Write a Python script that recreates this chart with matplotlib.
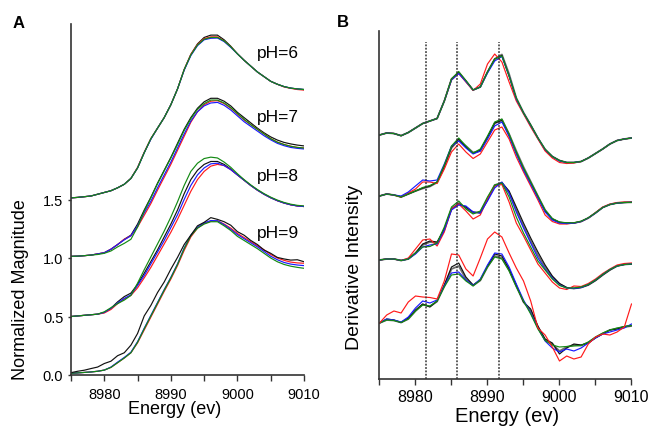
import numpy as np
import matplotlib.pyplot as plt
from matplotlib.ticker import MultipleLocator

plt.rcParams['font.family'] = ['Liberation Sans', 'DejaVu Sans']

# energy grid (eV), one point per eV
energy = np.arange(8975, 9011)

# ---- panel A: normalized XANES, values relative to each stack offset ----
ph_labels = ['pH=6', 'pH=7', 'pH=8', 'pH=9']
a_offsets = [1.5, 1.0, 0.5, 0.0]
a_label_y = [2.76, 2.21, 1.705, 1.22]

a6_black = [0.014, 0.018, 0.024, 0.030, 0.045, 0.060, 0.075, 0.100, 0.130, 0.180, 0.270, 0.400, 0.520, 0.610, 0.700, 0.810, 0.945, 1.110, 1.240, 1.330, 1.385, 1.405, 1.405, 1.365, 1.310, 1.245, 1.190, 1.140, 1.090, 1.050, 1.010, 0.985, 0.965, 0.952, 0.945, 0.940]
a6_red = [0.014, 0.018, 0.024, 0.030, 0.045, 0.060, 0.075, 0.100, 0.130, 0.180, 0.275, 0.405, 0.520, 0.610, 0.700, 0.810, 0.945, 1.110, 1.240, 1.325, 1.375, 1.390, 1.390, 1.355, 1.305, 1.245, 1.190, 1.140, 1.090, 1.050, 1.010, 0.985, 0.962, 0.950, 0.940, 0.935]
a6_blue = [0.014, 0.018, 0.024, 0.030, 0.045, 0.060, 0.075, 0.100, 0.130, 0.180, 0.270, 0.400, 0.515, 0.610, 0.700, 0.810, 0.945, 1.105, 1.230, 1.315, 1.365, 1.378, 1.380, 1.350, 1.300, 1.245, 1.190, 1.140, 1.090, 1.050, 1.010, 0.985, 0.965, 0.952, 0.945, 0.940]
a6_green = [0.014, 0.018, 0.024, 0.030, 0.045, 0.060, 0.075, 0.100, 0.130, 0.180, 0.270, 0.400, 0.520, 0.610, 0.700, 0.810, 0.945, 1.110, 1.235, 1.320, 1.370, 1.385, 1.385, 1.355, 1.305, 1.245, 1.190, 1.140, 1.090, 1.050, 1.010, 0.985, 0.965, 0.952, 0.945, 0.940]

a7_black = [0.014, 0.016, 0.020, 0.025, 0.035, 0.045, 0.075, 0.115, 0.160, 0.195, 0.290, 0.410, 0.520, 0.640, 0.750, 0.860, 0.980, 1.100, 1.200, 1.280, 1.335, 1.365, 1.365, 1.340, 1.300, 1.245, 1.200, 1.155, 1.110, 1.070, 1.035, 1.008, 0.988, 0.975, 0.965, 0.958]
a7_red = [0.014, 0.016, 0.020, 0.025, 0.035, 0.045, 0.075, 0.115, 0.160, 0.190, 0.265, 0.365, 0.465, 0.580, 0.690, 0.800, 0.920, 1.040, 1.160, 1.250, 1.310, 1.340, 1.345, 1.320, 1.280, 1.230, 1.180, 1.140, 1.100, 1.060, 1.020, 0.990, 0.970, 0.955, 0.945, 0.940]
a7_blue = [0.014, 0.016, 0.020, 0.025, 0.035, 0.045, 0.075, 0.115, 0.155, 0.190, 0.275, 0.385, 0.485, 0.600, 0.710, 0.820, 0.940, 1.060, 1.170, 1.250, 1.300, 1.325, 1.330, 1.305, 1.265, 1.215, 1.165, 1.125, 1.085, 1.045, 1.010, 0.980, 0.960, 0.945, 0.937, 0.932]
a7_green = [0.014, 0.016, 0.020, 0.025, 0.030, 0.040, 0.060, 0.095, 0.125, 0.160, 0.265, 0.400, 0.515, 0.635, 0.745, 0.855, 0.970, 1.090, 1.190, 1.270, 1.320, 1.350, 1.350, 1.325, 1.285, 1.235, 1.185, 1.140, 1.100, 1.060, 1.020, 0.990, 0.970, 0.955, 0.945, 0.940]

a8_black = [0.000, 0.005, 0.010, 0.015, 0.020, 0.035, 0.070, 0.125, 0.170, 0.200, 0.275, 0.370, 0.470, 0.570, 0.680, 0.790, 0.910, 1.050, 1.170, 1.250, 1.300, 1.325, 1.325, 1.300, 1.260, 1.210, 1.165, 1.120, 1.080, 1.045, 1.015, 0.990, 0.970, 0.955, 0.945, 0.940]
a8_red = [0.000, 0.005, 0.010, 0.015, 0.020, 0.030, 0.060, 0.110, 0.150, 0.180, 0.245, 0.330, 0.420, 0.520, 0.620, 0.720, 0.830, 0.950, 1.070, 1.170, 1.240, 1.285, 1.300, 1.290, 1.255, 1.210, 1.165, 1.120, 1.080, 1.045, 1.015, 0.990, 0.970, 0.955, 0.945, 0.940]
a8_blue = [0.000, 0.005, 0.010, 0.015, 0.020, 0.035, 0.070, 0.115, 0.155, 0.185, 0.265, 0.350, 0.450, 0.550, 0.650, 0.760, 0.870, 1.000, 1.120, 1.210, 1.270, 1.305, 1.310, 1.290, 1.255, 1.210, 1.165, 1.120, 1.080, 1.045, 1.015, 0.990, 0.970, 0.955, 0.945, 0.940]
a8_green = [0.000, 0.005, 0.010, 0.015, 0.020, 0.040, 0.075, 0.110, 0.140, 0.180, 0.285, 0.400, 0.510, 0.620, 0.730, 0.850, 0.980, 1.120, 1.240, 1.310, 1.350, 1.362, 1.355, 1.320, 1.275, 1.220, 1.170, 1.125, 1.085, 1.050, 1.020, 0.995, 0.975, 0.960, 0.950, 0.945]

a9_black = [0.020, 0.032, 0.041, 0.055, 0.068, 0.098, 0.118, 0.165, 0.190, 0.255, 0.355, 0.505, 0.595, 0.705, 0.795, 0.905, 1.005, 1.115, 1.195, 1.275, 1.305, 1.345, 1.330, 1.310, 1.280, 1.225, 1.195, 1.150, 1.115, 1.068, 1.040, 1.005, 0.992, 0.982, 0.985, 0.968]
a9_red = [0.015, 0.018, 0.022, 0.026, 0.032, 0.042, 0.065, 0.105, 0.145, 0.190, 0.275, 0.385, 0.495, 0.605, 0.715, 0.820, 0.935, 1.065, 1.180, 1.255, 1.295, 1.315, 1.318, 1.290, 1.255, 1.210, 1.175, 1.140, 1.105, 1.070, 1.030, 1.000, 0.980, 0.965, 0.958, 0.955]
a9_blue = [0.015, 0.018, 0.022, 0.026, 0.032, 0.042, 0.068, 0.110, 0.150, 0.195, 0.285, 0.400, 0.510, 0.620, 0.730, 0.835, 0.950, 1.085, 1.195, 1.262, 1.300, 1.320, 1.318, 1.285, 1.245, 1.200, 1.165, 1.130, 1.095, 1.055, 1.015, 0.985, 0.962, 0.948, 0.940, 0.935]
a9_green = [0.015, 0.018, 0.022, 0.026, 0.032, 0.042, 0.065, 0.105, 0.145, 0.190, 0.280, 0.395, 0.505, 0.615, 0.725, 0.830, 0.945, 1.080, 1.190, 1.255, 1.290, 1.310, 1.310, 1.275, 1.235, 1.185, 1.150, 1.115, 1.080, 1.040, 1.000, 0.968, 0.945, 0.930, 0.920, 0.912]

# ---- panel B: derivative spectra (arbitrary units, already stacked) ----
b_dotted = [8981.5, 8985.7, 8991.6]

b1_gray = [2.44, 2.46, 2.455, 2.433, 2.465, 2.51, 2.555, 2.58, 2.605, 2.78, 3.00, 3.065, 2.98, 2.89, 2.92, 3.07, 3.20, 3.245, 3.05, 2.81, 2.665, 2.54, 2.41, 2.295, 2.225, 2.185, 2.165, 2.165, 2.175, 2.21, 2.255, 2.30, 2.35, 2.385, 2.40, 2.41]
b1_red = [2.44, 2.46, 2.455, 2.433, 2.465, 2.51, 2.555, 2.58, 2.605, 2.78, 2.99, 3.055, 2.97, 2.885, 2.95, 3.15, 3.25, 3.17, 2.97, 2.78, 2.65, 2.52, 2.40, 2.28, 2.21, 2.165, 2.155, 2.16, 2.175, 2.21, 2.255, 2.30, 2.35, 2.385, 2.40, 2.41]
b1_blue = [2.44, 2.46, 2.455, 2.433, 2.465, 2.51, 2.555, 2.58, 2.605, 2.78, 2.99, 3.055, 2.975, 2.89, 2.92, 3.06, 3.18, 3.225, 3.03, 2.80, 2.66, 2.535, 2.41, 2.295, 2.225, 2.18, 2.165, 2.165, 2.175, 2.21, 2.255, 2.30, 2.35, 2.385, 2.40, 2.41]
b1_green = [2.44, 2.46, 2.455, 2.433, 2.465, 2.51, 2.555, 2.58, 2.605, 2.78, 3.00, 3.075, 2.985, 2.89, 2.92, 3.07, 3.20, 3.23, 3.03, 2.81, 2.66, 2.54, 2.41, 2.30, 2.225, 2.185, 2.165, 2.165, 2.175, 2.21, 2.255, 2.30, 2.35, 2.385, 2.40, 2.41]
b1_black = [2.44, 2.46, 2.455, 2.433, 2.465, 2.51, 2.555, 2.58, 2.605, 2.78, 3.00, 3.065, 2.98, 2.89, 2.92, 3.07, 3.20, 3.235, 3.03, 2.80, 2.66, 2.54, 2.41, 2.29, 2.225, 2.185, 2.165, 2.165, 2.175, 2.21, 2.255, 2.30, 2.35, 2.385, 2.40, 2.41]

b2_gray = [1.83, 1.85, 1.84, 1.82, 1.85, 1.88, 1.905, 1.925, 1.965, 2.12, 2.31, 2.39, 2.33, 2.265, 2.28, 2.41, 2.555, 2.595, 2.45, 2.28, 2.12, 1.975, 1.83, 1.69, 1.60, 1.565, 1.558, 1.56, 1.575, 1.61, 1.66, 1.715, 1.745, 1.76, 1.765, 1.767]
b2_red = [1.83, 1.85, 1.84, 1.82, 1.86, 1.90, 1.97, 1.97, 1.955, 2.10, 2.27, 2.35, 2.27, 2.205, 2.25, 2.37, 2.49, 2.52, 2.40, 2.22, 2.07, 1.93, 1.79, 1.64, 1.575, 1.55, 1.55, 1.56, 1.575, 1.61, 1.665, 1.72, 1.75, 1.765, 1.77, 1.77]
b2_blue = [1.83, 1.85, 1.84, 1.83, 1.87, 1.93, 1.99, 1.98, 1.99, 2.15, 2.33, 2.38, 2.31, 2.25, 2.28, 2.40, 2.53, 2.57, 2.43, 2.25, 2.09, 1.95, 1.81, 1.67, 1.59, 1.56, 1.555, 1.558, 1.575, 1.61, 1.66, 1.715, 1.745, 1.76, 1.765, 1.767]
b2_green = [1.83, 1.85, 1.84, 1.82, 1.85, 1.88, 1.915, 1.935, 1.97, 2.14, 2.33, 2.41, 2.33, 2.26, 2.30, 2.43, 2.57, 2.60, 2.45, 2.27, 2.11, 1.97, 1.83, 1.69, 1.605, 1.57, 1.562, 1.562, 1.578, 1.612, 1.662, 1.715, 1.745, 1.76, 1.765, 1.767]
b2_black = [1.83, 1.85, 1.84, 1.82, 1.85, 1.88, 1.91, 1.93, 1.97, 2.13, 2.32, 2.40, 2.32, 2.255, 2.29, 2.42, 2.56, 2.585, 2.43, 2.26, 2.10, 1.96, 1.82, 1.68, 1.60, 1.567, 1.56, 1.56, 1.575, 1.61, 1.66, 1.715, 1.745, 1.76, 1.765, 1.767]

b3_gray = [1.19, 1.20, 1.20, 1.185, 1.20, 1.26, 1.34, 1.37, 1.36, 1.49, 1.70, 1.76, 1.71, 1.66, 1.67, 1.80, 1.94, 1.96, 1.86, 1.69, 1.53, 1.38, 1.24, 1.12, 1.02, 0.95, 0.912, 0.905, 0.915, 0.94, 0.985, 1.04, 1.09, 1.13, 1.145, 1.15]
b3_red = [1.19, 1.20, 1.20, 1.185, 1.21, 1.30, 1.39, 1.40, 1.33, 1.47, 1.70, 1.75, 1.68, 1.60, 1.64, 1.80, 1.93, 1.945, 1.77, 1.56, 1.43, 1.29, 1.15, 1.06, 0.97, 0.91, 0.895, 0.93, 0.925, 0.955, 1.00, 1.055, 1.10, 1.14, 1.155, 1.16]
b3_blue = [1.19, 1.20, 1.20, 1.185, 1.20, 1.25, 1.32, 1.34, 1.35, 1.49, 1.69, 1.74, 1.73, 1.67, 1.66, 1.78, 1.91, 1.97, 1.86, 1.67, 1.51, 1.36, 1.21, 1.10, 1.01, 0.94, 0.91, 0.905, 0.915, 0.945, 0.99, 1.045, 1.095, 1.13, 1.145, 1.15]
b3_green = [1.19, 1.20, 1.20, 1.185, 1.20, 1.26, 1.32, 1.325, 1.36, 1.52, 1.72, 1.78, 1.70, 1.65, 1.68, 1.82, 1.94, 1.96, 1.82, 1.62, 1.46, 1.32, 1.18, 1.09, 1.00, 0.935, 0.91, 0.91, 0.92, 0.945, 0.99, 1.045, 1.095, 1.13, 1.145, 1.15]
b3_black = [1.19, 1.20, 1.20, 1.185, 1.20, 1.26, 1.35, 1.38, 1.37, 1.50, 1.70, 1.75, 1.72, 1.67, 1.66, 1.79, 1.93, 1.965, 1.88, 1.72, 1.56, 1.41, 1.27, 1.14, 1.03, 0.955, 0.915, 0.905, 0.915, 0.94, 0.985, 1.04, 1.09, 1.13, 1.145, 1.15]

b4_gray = [0.56, 0.59, 0.585, 0.565, 0.60, 0.68, 0.745, 0.725, 0.775, 0.93, 1.10, 1.13, 1.00, 0.935, 0.985, 1.12, 1.23, 1.21, 1.09, 0.93, 0.77, 0.68, 0.52, 0.39, 0.35, 0.28, 0.32, 0.34, 0.335, 0.365, 0.415, 0.455, 0.49, 0.505, 0.52, 0.53]
b4_red = [0.56, 0.64, 0.68, 0.66, 0.77, 0.83, 0.82, 0.815, 0.80, 0.98, 1.25, 1.24, 1.10, 1.03, 1.21, 1.40, 1.47, 1.42, 1.26, 1.11, 0.98, 0.78, 0.51, 0.44, 0.32, 0.18, 0.23, 0.20, 0.22, 0.35, 0.42, 0.45, 0.44, 0.47, 0.52, 0.75]
b4_blue = [0.56, 0.60, 0.59, 0.57, 0.62, 0.71, 0.78, 0.76, 0.79, 0.93, 1.06, 1.07, 0.99, 0.935, 1.00, 1.14, 1.26, 1.25, 1.12, 0.95, 0.79, 0.66, 0.51, 0.38, 0.31, 0.27, 0.30, 0.28, 0.31, 0.36, 0.41, 0.45, 0.47, 0.49, 0.51, 0.55]
b4_green = [0.56, 0.59, 0.585, 0.565, 0.60, 0.68, 0.74, 0.73, 0.78, 0.92, 1.04, 1.05, 0.98, 0.93, 0.99, 1.12, 1.22, 1.20, 1.08, 0.92, 0.78, 0.65, 0.50, 0.385, 0.34, 0.32, 0.325, 0.33, 0.335, 0.37, 0.42, 0.46, 0.49, 0.51, 0.525, 0.535]
b4_black = [0.56, 0.60, 0.59, 0.565, 0.61, 0.69, 0.75, 0.72, 0.78, 0.94, 1.12, 1.16, 1.02, 0.94, 0.99, 1.13, 1.25, 1.23, 1.10, 0.94, 0.77, 0.70, 0.53, 0.40, 0.36, 0.25, 0.31, 0.35, 0.34, 0.36, 0.41, 0.45, 0.49, 0.50, 0.525, 0.535]

colors = {'black': '#111111', 'red': '#ff1a1a', 'blue': '#1a1aff',
          'green': '#138a13', 'gray': '#6e6e6e'}

# drawing order: black underneath so the coloured traces show through
a_groups = [
    [('black', a6_black), ('red', a6_red), ('blue', a6_blue), ('green', a6_green)],
    [('black', a7_black), ('red', a7_red), ('blue', a7_blue), ('green', a7_green)],
    [('black', a8_black), ('red', a8_red), ('blue', a8_blue), ('green', a8_green)],
    [('red', a9_red), ('blue', a9_blue), ('green', a9_green), ('black', a9_black)],
]
b_groups = [
    [('gray', b1_gray), ('black', b1_black), ('red', b1_red), ('blue', b1_blue), ('green', b1_green)],
    [('gray', b2_gray), ('black', b2_black), ('red', b2_red), ('blue', b2_blue), ('green', b2_green)],
    [('gray', b3_gray), ('black', b3_black), ('red', b3_red), ('blue', b3_blue), ('green', b3_green)],
    [('gray', b4_gray), ('black', b4_black), ('blue', b4_blue), ('green', b4_green), ('red', b4_red)],
]


def style_axis(ax, tick_size, pad):
    for side in ['top', 'right']:
        ax.spines[side].set_visible(False)
    for side in ['left', 'bottom']:
        ax.spines[side].set_color('#333333')
        ax.spines[side].set_linewidth(1.2)
    ax.set_xlim(8975, 9010)
    ax.xaxis.set_major_locator(MultipleLocator(10))
    ax.xaxis.set_minor_locator(MultipleLocator(5))
    ax.tick_params(axis='x', which='both', direction='out', length=4.5,
                   width=1.0, color='#333333', labelsize=tick_size, pad=pad)


fig = plt.figure(figsize=(6.5, 4.27), dpi=100)

# panel A
axA = fig.add_axes([71 / 650, 51 / 427, 233 / 650, 351 / 427])
for off, group in zip(a_offsets, a_groups):
    for name, vals in group:
        axA.plot(energy, np.array(vals) + off, color=colors[name], lw=0.85)
for lab, ly in zip(ph_labels, a_label_y):
    axA.text(9002.9, ly, lab, fontsize=12.5, ha='left', va='center')
style_axis(axA, 10.5, 4)
axA.set_ylim(0, 3.0)
axA.set_yticks([0, 0.5, 1.0, 1.5])
axA.set_yticklabels(['0.0', '0.5', '1.0', '1.5'])
axA.tick_params(axis='y', direction='out', length=2.5, width=1.0,
                color='#333333', labelsize=10.5, pad=3)

# panel B
axB = fig.add_axes([379.5 / 650, 47 / 427, 252 / 650, 348 / 427])
for group in b_groups:
    for name, vals in group:
        lw = 1.3 if name == 'gray' else 0.85
        axB.plot(energy, vals, color=colors[name], lw=lw)
axB.vlines(b_dotted, 0, 3.37, colors='#333333', linestyles=(0, (1.2, 1.0)), lw=1.1)
style_axis(axB, 11.5, 2.5)
axB.set_ylim(0, 3.48)
axB.set_yticks([])

# labels
fig.text(0.268, 0.042, 'Energy (ev)', fontsize=13, ha='center', va='center')
fig.text(0.031, 0.321, 'Normalized Magnitude', fontsize=13, rotation=90,
         ha='center', va='center')
fig.text(0.780, 0.024, 'Energy (ev)', fontsize=14.5, ha='center', va='center')
fig.text(0.546, 0.375, 'Derivative Intensity', fontsize=14, rotation=90,
         ha='center', va='center')
fig.text(0.028, 0.944, 'A', fontsize=12, fontweight='bold', ha='center', va='center')
fig.text(0.527, 0.947, 'B', fontsize=12, fontweight='bold', ha='center', va='center')

fig.savefig('out.png', dpi=100)
